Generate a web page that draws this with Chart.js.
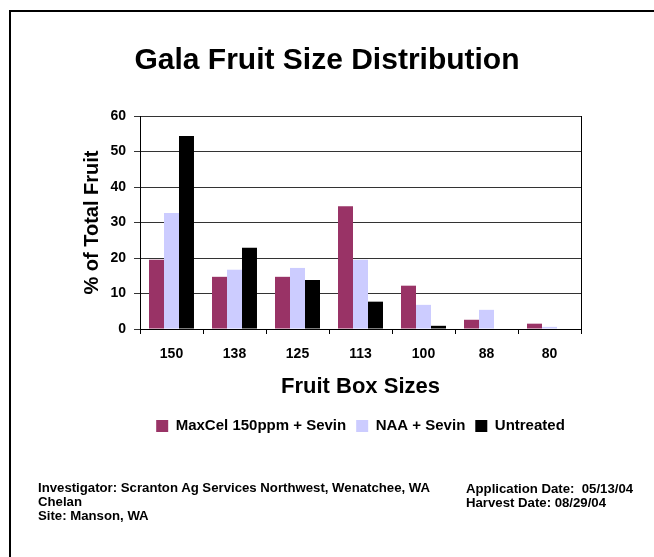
<!DOCTYPE html>
<html>
<head>
<meta charset="utf-8">
<script src="https://cdn.jsdelivr.net/npm/chart.js@4"></script>
<style>
  body { margin: 0; width: 654px; height: 557px; overflow: hidden; background: #fff; position: relative; font-family: 'Liberation Sans', Arial, sans-serif; }
  #frame { position: absolute; left: 9px; top: 10px; width: 700px; height: 600px; border: 2px solid #000; }
  #myChart { position: absolute; left: 0; top: 0; }
  .note { position: absolute; font-weight: bold; font-size: 13.2px; line-height: 14px; color: #000; white-space: nowrap; }
</style>
</head>
<body>
<div id="frame"></div>
<canvas id="myChart" width="654" height="557"></canvas>
<div class="note" style="left:38px; top:481px;">Investigator: Scranton Ag Services Northwest, Wenatchee, WA<br>Chelan<br>Site: Manson, WA</div>
<div class="note" style="left:466px; top:482px;">Application Date:&nbsp; 05/13/04<br>Harvest Date: 08/29/04</div>
<script>
// 箱サイズ（カテゴリ）
var boxSizes = ["150", "138", "125", "113", "100", "88", "80"];
// 各処理の割合 (%)
var maxcel = [19.5, 14.7, 14.7, 34.6, 12.2, 2.6, 1.5];
var naa = [32.7, 16.7, 17.2, 19.5, 6.8, 5.4, 0.6];
var untreated = [54.4, 22.9, 13.8, 7.7, 0.9, 0, 0];
var seriesNames = ["MaxCel 150ppm + Sevin", "NAA + Sevin", "Untreated"];
var seriesColors = ["#993366", "#CCCCFF", "#000000"];
var yTicks = [0, 10, 20, 30, 40, 50, 60];

var fontFamily = "'Liberation Sans', Arial, sans-serif";

const ctx = document.getElementById('myChart').getContext('2d');
var myChart = new Chart(ctx, {
    type: 'bar',
    data: {
        labels: boxSizes,
        datasets: [maxcel, naa, untreated].map((vals, i) => ({
            label: seriesNames[i],
            data: vals,
            backgroundColor: seriesColors[i],
            borderWidth: 0,
            barPercentage: 1.0,
            categoryPercentage: 0.714
        }))
    },
    options: {
        responsive: false,
        animation: false,
        layout: { padding: { left: 0, right: 0, top: 0, bottom: 113.5 } },
        scales: {
            x: {
                grid: { offset: true, drawOnChartArea: false, drawTicks: true, tickLength: 5, color: '#000' },
                border: { display: true, color: '#000', width: 1 },
                ticks: { color: '#000', padding: 12, maxRotation: 0, font: { family: fontFamily, size: 14, weight: 'bold' } },
                title: {
                    display: true,
                    text: 'Fruit Box Sizes',
                    color: '#000',
                    font: { family: fontFamily, size: 22, weight: 'bold' },
                    padding: { top: 0, bottom: 8.3 }
                },
                afterFit: function (scale) { scale.height = 79.5; }
            },
            y: {
                min: 0,
                max: 60,
                afterBuildTicks: function (scale) { scale.ticks = yTicks.map(v => ({ value: v })); },
                grid: { color: '#333', lineWidth: 1, tickLength: 6 },
                border: { display: true, color: '#000', width: 1 },
                ticks: { color: '#000', padding: 8, font: { family: fontFamily, size: 14, weight: 'bold' } },
                title: {
                    display: true,
                    text: '% of Total Fruit',
                    color: '#000',
                    font: { family: fontFamily, size: 20, weight: 'bold' },
                    padding: { top: 80, bottom: 0 }
                },
                afterFit: function (scale) { scale.width = 140; }
            },
            y2: {
                position: 'right',
                display: true,
                min: 0,
                max: 60,
                grid: { drawOnChartArea: false, drawTicks: false },
                border: { display: true, color: '#000', width: 1 },
                ticks: { display: false },
                afterFit: function (scale) { scale.width = 73; }
            }
        },
        plugins: {
            title: {
                display: true,
                text: 'Gala Fruit Size Distribution',
                color: '#000',
                font: { family: fontFamily, size: 30, weight: 'bold' },
                padding: { top: 43, bottom: 37 }
            },
            legend: {
                display: true,
                position: 'bottom',
                fullSize: false,
                labels: {
                    color: '#000',
                    boxWidth: 12,
                    boxHeight: 12,
                    padding: 10,
                    font: { family: fontFamily, size: 15, weight: 'bold' }
                }
            },
            tooltip: { enabled: false }
        }
    }
});
</script>
</body>
</html>
